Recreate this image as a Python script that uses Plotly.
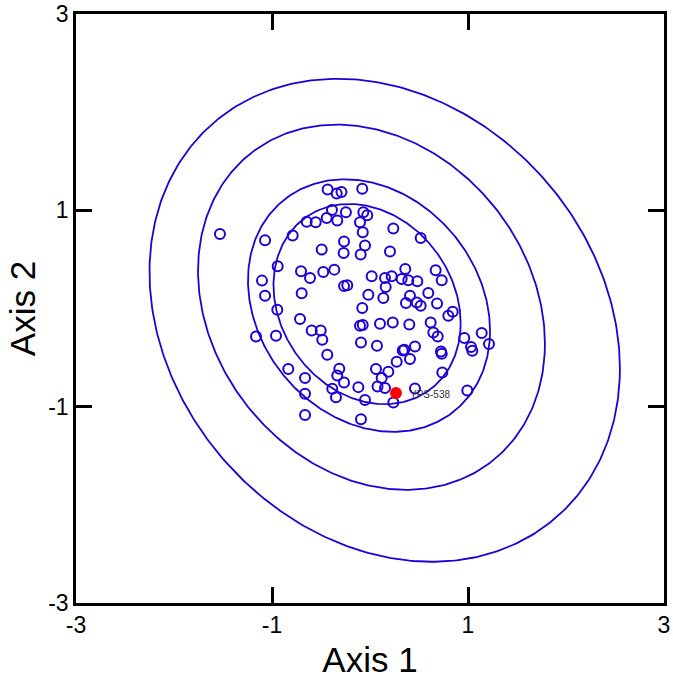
import numpy as np
import plotly.graph_objects as go

# ---- data -------------------------------------------------------------
axis1 = [-0.432, -0.340, -0.291, -1.531, -0.388, -0.246, -0.646, -0.554, -0.442, -0.334,
         -1.071, -0.789, -0.265, -0.493, -0.269, -0.942, -0.704, -0.612, -0.477, -0.364,
         -1.102, -0.265, -0.232, -1.071, -0.697, -0.079, -0.068, -0.028, -0.102, -0.074,
         0.238, 0.517, -0.051, -0.095, 0.204, 0.360, 0.670, 0.017, 0.153, 0.221,
         0.323, 0.391, 0.483, 0.732, 0.160, -0.017, 0.136, 0.408, 0.595, -0.946,
         -0.714, -0.079, -1.163, -0.959, -0.595, -0.503, -0.487, -0.102, -0.074, -0.092,
         0.102, 0.071, -0.436, -0.834, -0.663, -0.313, -0.334, -0.265, -0.385, -0.347,
         -0.119, -0.051, 0.061, 0.077, -0.663, -0.663, -0.092, 0.367, 0.477, 0.517,
         0.684, 0.799, 0.844, 0.232, 0.401, 0.619, 0.646, 0.691, 0.962, 1.031,
         1.044, 1.140, 1.214, 0.334, 0.350, 0.459, 0.408, 0.272, 0.724, 0.732,
         0.738, 0.187, 0.119, 0.153, 0.459, 0.993, 0.238]
axis2 = [1.212, 1.171, 1.187, 0.760, 1.004, 0.981, 0.883, 0.879, 0.923, 0.896,
         0.695, 0.743, 0.682, 0.600, 0.566, 0.430, 0.379, 0.311, 0.372, 0.396,
         0.284, 0.228, 0.238, 0.131, 0.156, 1.219, 0.981, 0.950, 0.879, 0.777,
         0.814, 0.719, 0.641, 0.549, 0.580, 0.403, 0.389, 0.328, 0.311, 0.328,
         0.301, 0.287, 0.277, 0.287, 0.219, 0.141, 0.107, 0.131, 0.158, -0.012,
         -0.107, 0.005, -0.285, -0.278, -0.223, -0.223, -0.318, -0.176, -0.168, -0.346,
         -0.155, -0.380, -0.471, -0.617, -0.709, -0.614, -0.683, -0.754, -0.818, -0.903,
         -0.801, -0.931, -0.617, -0.795, -0.869, -1.084, -1.128, 0.056, 0.062, 0.029,
         0.052, -0.073, -0.033, -0.142, -0.162, -0.142, -0.244, -0.285, -0.301, -0.393,
         -0.431, -0.250, -0.362, -0.428, -0.420, -0.387, -0.515, -0.543, -0.438, -0.461,
         -0.652, -0.645, -0.709, -0.811, -0.815, -0.836, -0.958]

highlight_name = "YPS-538"
highlight_x = [0.265]
highlight_y = [-0.86]

# ellipse parameters: centre x, centre y, half-width x, half-height y, correlation
ell_cx = [-0.03, -0.01, 0.015, 0.15]
ell_cy = [0.045, 0.03, 0.013, -0.12]
ell_sx = [0.955, 1.235, 1.77, 2.40]
ell_sy = [1.02, 1.286, 1.86, 2.46]
ell_rho = [-0.19, -0.20, -0.20, -0.20]

tick_vals = [-3, -1, 1, 3]
tick_text = ["-3", "-1", "1", "3"]

BLUE = "rgb(30,0,215)"
FONT = "Arial, Liberation Sans, sans-serif"

fig = go.Figure()

t = np.linspace(0, 2 * np.pi, 400)
for cx, cy, sx, sy, r in zip(ell_cx, ell_cy, ell_sx, ell_sy, ell_rho):
    ex = cx + sx * np.cos(t)
    ey = cy + sy * (r * np.cos(t) + np.sqrt(1 - r * r) * np.sin(t))
    fig.add_trace(go.Scatter(x=ex, y=ey, mode="lines",
                             line=dict(color=BLUE, width=1.8),
                             hoverinfo="skip", showlegend=False))

fig.add_trace(go.Scatter(x=axis1, y=axis2, mode="markers",
                         marker=dict(symbol="circle-open", size=10, color=BLUE,
                                     line=dict(width=2, color=BLUE)),
                         showlegend=False))

fig.add_trace(go.Scatter(x=highlight_x, y=highlight_y, mode="markers",
                         marker=dict(symbol="circle", size=12, color="red"),
                         showlegend=False))
fig.add_annotation(x=highlight_x[0], y=highlight_y[0], text=highlight_name,
                   showarrow=False, xanchor="left", yanchor="middle", xshift=12,
                   yshift=-2, font=dict(family=FONT, size=10, color="#333333"))

axis_common = dict(range=[-3, 3], tickvals=tick_vals, ticktext=tick_text,
                   showgrid=False, zeroline=False, showline=True, automargin=False,
                   linecolor="black", linewidth=2.5, mirror="ticks",
                   ticks="inside", ticklen=16, tickwidth=2.5, tickcolor="black",
                   tickfont=dict(family=FONT, size=23, color="black"))

fig.update_layout(
    width=673, height=684,
    margin=dict(l=76, r=9, t=14, b=81),
    paper_bgcolor="white", plot_bgcolor="white",
    xaxis=dict(**axis_common,
               title=dict(text="Axis 1", font=dict(family=FONT, size=35, color="black"),
                          standoff=11)),
    yaxis=dict(**axis_common,
               title=dict(text="Axis 2", font=dict(family=FONT, size=35, color="black"),
                          standoff=2)),
)

fig.write_html("out.html", config={"displayModeBar": False},
               post_script="document.body.style.margin='0px';"
                           "document.body.style.overflow='hidden';")
